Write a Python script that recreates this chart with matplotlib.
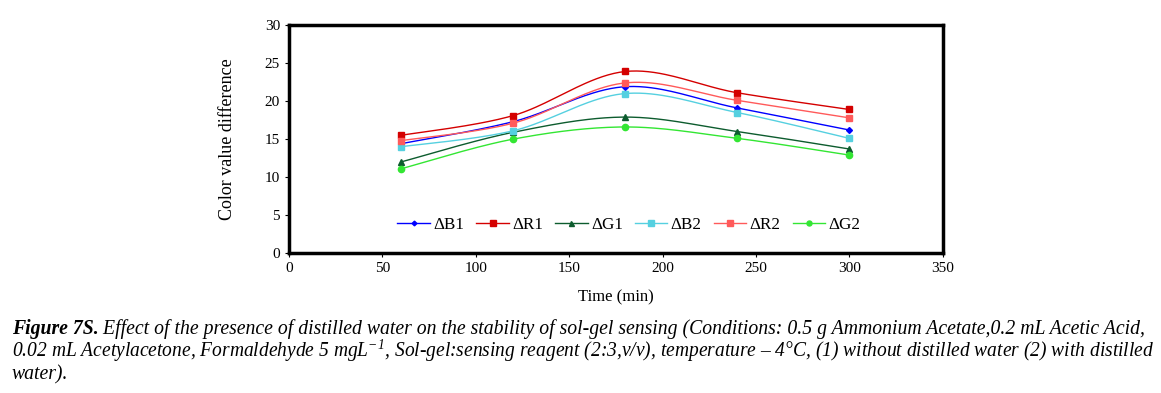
import matplotlib.pyplot as plt
import numpy as np

plt.rcParams["font.family"] = ["Liberation Serif", "DejaVu Serif"]
plt.rcParams["mathtext.fontset"] = "custom"
plt.rcParams["mathtext.rm"] = "Liberation Serif:italic"
plt.rcParams["mathtext.it"] = "Liberation Serif:italic"

time_min = [60, 120, 180, 240, 300]
series_names = ["ΔB1", "ΔR1", "ΔG1", "ΔB2", "ΔR2", "ΔG2"]
db1 = [14.4, 17.3, 21.9, 19.1, 16.2]
dr1 = [15.5, 18.1, 23.9, 21.1, 18.9]
dg1 = [12.0, 15.9, 17.9, 16.0, 13.7]
db2 = [14.0, 16.1, 21.0, 18.5, 15.1]
dr2 = [14.8, 17.1, 22.4, 20.1, 17.8]
dg2 = [11.1, 15.0, 16.6, 15.1, 12.9]

colors = ["#0000ff", "#d40000", "#0d5c2e", "#55d0e0", "#ff5a5a", "#33e633"]
markers = ["D", "s", "^", "s", "s", "o"]
msizes = [3, 5, 4.5, 5, 5, 4.5]


def smooth(x, y, n=40):
    # Catmull-Rom style smoothing, similar to a spreadsheet "smoothed line"
    x = np.asarray(x, float)
    y = np.asarray(y, float)
    px = np.concatenate([[x[0]], x, [x[-1]]])
    py = np.concatenate([[y[0]], y, [y[-1]]])
    xs, ys = [], []
    for i in range(1, len(px) - 2):
        p0 = np.array([px[i - 1], py[i - 1]])
        p1 = np.array([px[i], py[i]])
        p2 = np.array([px[i + 1], py[i + 1]])
        p3 = np.array([px[i + 2], py[i + 2]])
        c1 = p1 + (p2 - p0) / 6
        c2 = p2 - (p3 - p1) / 6
        t = np.linspace(0, 1, n)[:, None]
        pts = ((1 - t) ** 3) * p1 + 3 * ((1 - t) ** 2) * t * c1 + 3 * (1 - t) * t ** 2 * c2 + t ** 3 * p2
        xs.extend(pts[:, 0])
        ys.extend(pts[:, 1])
    return np.array(xs), np.array(ys)


fig = plt.figure(figsize=(11.61, 3.93), dpi=100)
ax = fig.add_axes([0.249, 0.356, 0.563, 0.580])

for name, vals, c, m, ms in zip(series_names, [db1, dr1, dg1, db2, dr2, dg2], colors, markers, msizes):
    sx, sy = smooth(time_min, vals)
    ax.plot(sx, sy, color=c, lw=1.0)
    ax.plot(time_min, vals, linestyle="none", marker=m, color=c, ms=ms)
    ax.plot([], [], color=c, lw=1.0, marker=m, ms=ms * 0.8, label=name)

ax.set_xlim(0, 350)
ax.set_ylim(0, 30)
ax.set_xticks(np.arange(0, 351, 50))
ax.set_yticks(np.arange(0, 31, 5))
ax.tick_params(labelsize=11, length=3, width=0.8, direction="out")
for s in ax.spines.values():
    s.set_linewidth(2.5)
ax.set_xlabel("Time (min)", fontsize=12, labelpad=10)
ax.set_ylabel("Color value difference", fontsize=13, labelpad=21)

ax.legend(loc="lower center", bbox_to_anchor=(0.52, 0.02), ncol=6, frameon=False,
          fontsize=12.3, handlelength=1.9, handletextpad=0.2, columnspacing=0.7)

fs = 14.2
t1 = fig.text(0.010, 0.150, "Figure 7S.", fontsize=fs, fontweight="bold", fontstyle="italic")
ax.annotate(" Effect of the presence of distilled water on the stability of sol-gel sensing "
            "(Conditions: 0.5 g Ammonium Acetate,0.2 mL Acetic Acid,",
            xy=(1, 0), xycoords=t1, fontsize=fs, fontstyle="italic", va="bottom")
fig.text(0.010, 0.092,
         "0.02 mL Acetylacetone, Formaldehyde 5 mgL$^{-1}$, Sol-gel:sensing reagent (2:3,v/v), "
         "temperature – 4°C, (1) without distilled water (2) with distilled",
         fontsize=14.05, fontstyle="italic")
fig.text(0.010, 0.034, "water).", fontsize=fs, fontstyle="italic")

fig.savefig("out.png", dpi=100)
